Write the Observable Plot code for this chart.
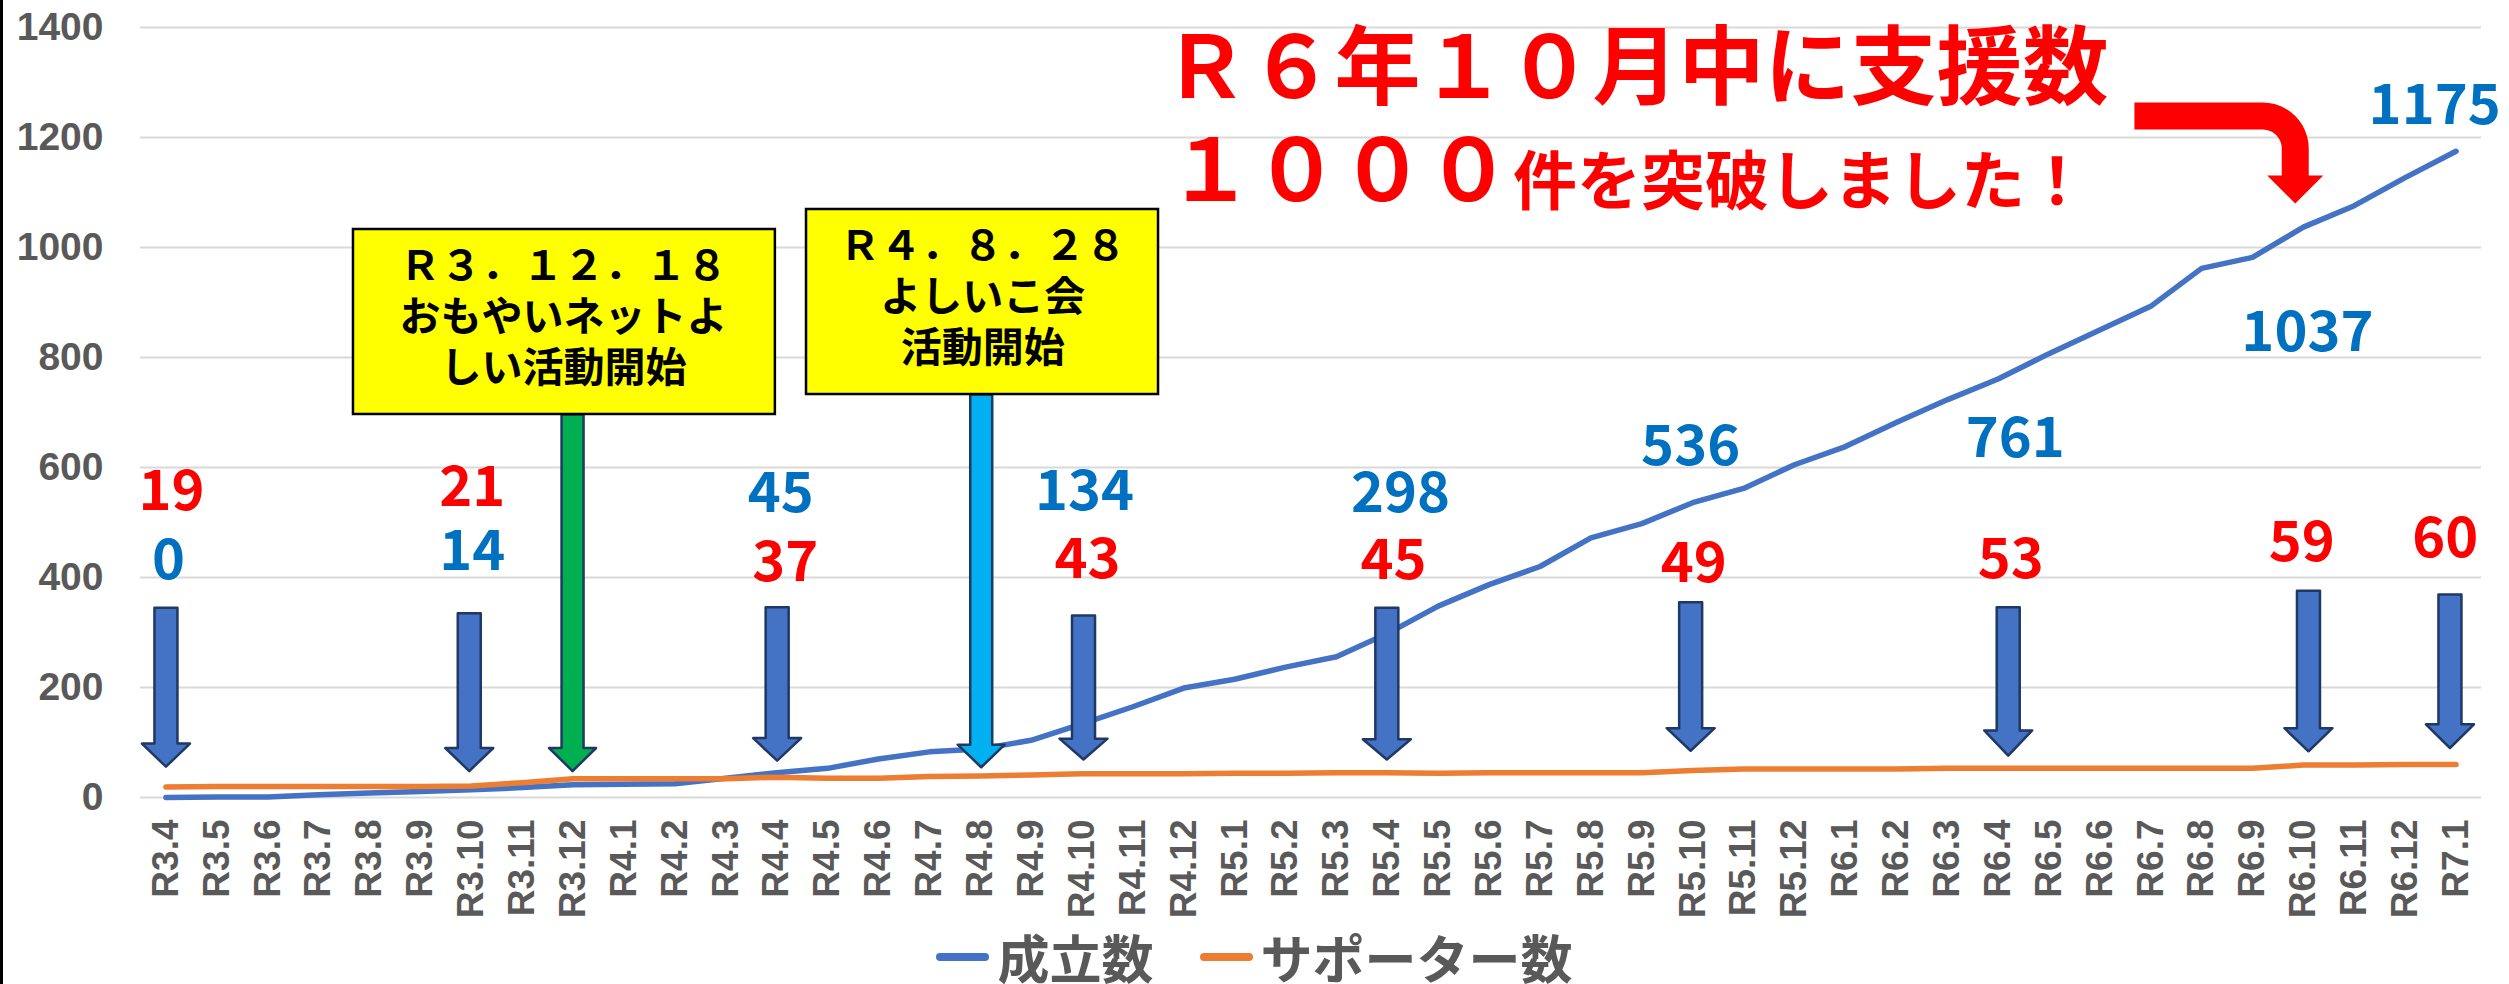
<!DOCTYPE html>
<html><head><meta charset="utf-8">
<script src="https://cdn.jsdelivr.net/npm/d3@7"></script>
<script src="https://cdn.jsdelivr.net/npm/@observablehq/plot@0.6"></script>
<style>
html,body{margin:0;padding:0;background:#fff;}
#wrap{position:relative;width:2509px;height:984px;overflow:hidden;background:#fff;}
#border{position:absolute;left:0;top:0;width:3px;height:984px;background:#000;}
#legend{height:54px;display:flex;justify-content:center;align-items:center;font-family:"Noto Sans CJK JP";font-weight:bold;font-size:52px;color:#595959;line-height:54px;}
#legend .item{display:flex;align-items:center;}
#legend .sw{display:inline-block;width:53px;height:8px;border-radius:4px;margin-right:8px;}
#legend .item + .item{margin-left:46px;}
</style></head>
<body><div id="wrap"><div id="chart"></div><div id="legend"></div><div id="border"></div></div>
<script>
// ---- data ----
const months = ["R3.4","R3.5","R3.6","R3.7","R3.8","R3.9","R3.10","R3.11","R3.12",
  "R4.1","R4.2","R4.3","R4.4","R4.5","R4.6","R4.7","R4.8","R4.9","R4.10","R4.11","R4.12",
  "R5.1","R5.2","R5.3","R5.4","R5.5","R5.6","R5.7","R5.8","R5.9","R5.10","R5.11","R5.12",
  "R6.1","R6.2","R6.3","R6.4","R6.5","R6.6","R6.7","R6.8","R6.9","R6.10","R6.11","R6.12",
  "R7.1"];
const seiritu = [0,1,1,5,8,11,14,18,23,24,25,35,45,53,70,83,88,104,134,165,199,
  215,237,256,298,348,387,420,472,498,536,562,605,
  638,682,723,761,807,850,893,962,982,1037,1076,1127,1175];
const supporter = [19,20,20,20,20,20,21,27,34,34,34,34,37,35,35,38,39,41,43,43,43,
  44,44,45,45,44,45,45,45,45,49,52,52,
  52,52,53,53,53,53,53,53,53,59,59,60,60];
const seriesNames = ["成立数","サポーター数"];
const seriesColors = ["#4472C4","#ED7D31"];
const yTicks = [0,200,400,600,800,1000,1200,1400];

// value labels shown every six months (month index) and their anchor positions (x: month index, y: value units)
const labelIdx = [0,6,12,18,24,30,36,42,45];
const blueLabelX = [0.05,6.02,12.08,18.05,24.26,29.96,36.34,42.08,44.58];
const blueLabelY = [429,447,551,555,551,638,651,844,1258];
const redLabelX = [0.11,6.02,12.17,18.11,24.12,30.02,36.25,41.97,44.79];
const redLabelY = [555,563,426,431,429,425,431,462,469];

// down arrows (x: month index, y: value units)
const arrowX = [0.0,5.96,12.01,18.03,23.99,29.96,36.2,42.1,44.88];
const arrowTop = [345,335,346,331,345,355,346,376,369];
const arrowHead = [98,90,108,107,106,126,122,126,133];
const arrowTip = [56,48,67,69,69,85,76,84,90];

// event callouts
const eventText = ["Ｒ３．１２．１８\nおもやいネットよ\nしい活動開始", "Ｒ４．８．２８\nよしいこ会\n活動開始"];
const eventColor = ["#00B050","#00B0F0"];
const eventArrowX = [7.99,16.02];
const eventArrowHead = [90,96];
const eventArrowTip = [48,55];
const eventBoxX1 = [3.685,12.587];
const eventBoxX2 = [11.975,19.504];
const eventBoxY1 = [696.4,732.7];
const eventBoxY2 = [1032.7,1069.1];
const eventTextX = [7.81,16.05];
const eventTextY = [878,914.5];

// headline
const headline1 = "Ｒ６年１０月中に支援数";
const headline2a = "１０００";
const headline2b = "件を突破しました！";

// ---- geometry ----
const W = 2509, H = 930, mL = 140, mR = 28, mT = 27, mB = 133;
const kx = 46 / (W - mL - mR);      // month-index units per pixel
const ky = 1400 / (H - mT - mB);    // value units per pixel

function blockArrow(id, cx, top, head, tip, shaftPx, headPx) {
  const hw = shaftPx / 2 * kx, hh = headPx / 2 * kx;
  return [[cx-hw,top],[cx+hw,top],[cx+hw,head],[cx+hh,head],[cx,tip],[cx-hh,head],[cx-hw,head]]
    .map(([x,y]) => ({id, x, y}));
}
function bentArrow(x0, xc, yTop, yTip, tPx, rPx, headWPx, headLPx) {
  const pts = [];
  const xr = xc + tPx/2*kx, xl = xc - tPx/2*kx;
  const acx = xr - rPx*kx, acy = yTop - rPx*ky;
  const r2 = rPx - tPx;
  const headStart = yTip + headLPx*ky;
  pts.push([x0, yTop]);
  for (let k = 0; k <= 12; k++) { const a = Math.PI/2 - k*(Math.PI/2)/12; pts.push([acx + rPx*Math.cos(a)*kx, acy + rPx*Math.sin(a)*ky]); }
  pts.push([xr, headStart]);
  pts.push([xc + headWPx/2*kx, headStart]);
  pts.push([xc, yTip]);
  pts.push([xc - headWPx/2*kx, headStart]);
  pts.push([xl, headStart]);
  for (let k = 0; k <= 12; k++) { const a = k*(Math.PI/2)/12; pts.push([acx + r2*Math.cos(a)*kx, acy + r2*Math.sin(a)*ky]); }
  pts.push([x0, yTop - tPx*ky]);
  return pts.map(([x,y]) => ({x, y}));
}

const blueArrows = labelIdx.flatMap((c, i) => blockArrow(i, arrowX[i], arrowTop[i], arrowHead[i], arrowTip[i], 23, 48));
const evArrows = [0,1].map(i => blockArrow(i, eventArrowX[i], eventBoxY1[i], eventArrowHead[i], eventArrowTip[i], 22, 47));
const redArrow = bentArrow(38.68, 41.84, 1263.6, 1080, 27, 46, 56, 28);

const jp = "'Noto Sans CJK JP', sans-serif";
const lblFont = {fontFamily: jp, fontWeight: "bold", fontSize: 56, lineAnchor: "middle", textAnchor: "middle"};

const plot = Plot.plot({
  width: W, height: H,
  marginLeft: mL, marginRight: mR, marginTop: mT, marginBottom: mB,
  style: {fontFamily: jp, background: "white"},
  x: {domain: [-0.5, 45.5]},
  y: {domain: [0, 1400]},
  marks: [
    Plot.ruleY(yTicks, {stroke: "#D9D9D9", strokeWidth: 2}),
    Plot.axisY(yTicks, {tickFormat: d => String(d), tickSize: 0, tickPadding: 37, fontSize: 39, fontWeight: "bold",
      fontFamily: "'Liberation Sans', Arial, sans-serif", color: "#595959", label: null}),
    Plot.axisX(months.map((m, i) => i), {tickFormat: i => months[i], tickRotate: -90, tickSize: 0, tickPadding: 22,
      fontSize: 37, fontWeight: "bold", fontFamily: "'Liberation Sans Narrow', 'Liberation Sans', Arial, sans-serif", color: "#595959", label: null}),
    Plot.line(seiritu, {x: (d, i) => i, y: d => d, stroke: seriesColors[0], strokeWidth: 5.5, strokeLinecap: "round", strokeLinejoin: "round"}),
    Plot.line(supporter, {x: (d, i) => i, y: d => d, stroke: seriesColors[1], strokeWidth: 5.5, strokeLinecap: "round", strokeLinejoin: "round"}),
    Plot.line(blueArrows, {x: "x", y: "y", z: "id", curve: "linear-closed", fill: "#4472C4", stroke: "#1F3864", strokeWidth: 2.5}),
    Plot.line(evArrows[0], {x: "x", y: "y", curve: "linear-closed", fill: eventColor[0], stroke: "#1F3864", strokeWidth: 2.5}),
    Plot.line(evArrows[1], {x: "x", y: "y", curve: "linear-closed", fill: eventColor[1], stroke: "#1F3864", strokeWidth: 2.5}),
    Plot.rect([0,1], {x1: i => eventBoxX1[i], x2: i => eventBoxX2[i], y1: i => eventBoxY1[i], y2: i => eventBoxY2[i],
      fill: "#FFFF00", stroke: "#000", strokeWidth: 2.5}),
    Plot.text([0,1], {x: i => eventTextX[i], y: i => eventTextY[i], text: i => eventText[i],
      fontFamily: jp, fontWeight: "bold", fontSize: 41, lineHeight: 1.25, fill: "#000", textAnchor: "middle", lineAnchor: "middle"}),
    Plot.text(labelIdx, {x: (c, i) => blueLabelX[i], y: (c, i) => blueLabelY[i], text: c => String(seiritu[c]), fill: "#0070C0", ...lblFont}),
    Plot.text(labelIdx, {x: (c, i) => redLabelX[i], y: (c, i) => redLabelY[i], text: c => String(supporter[c]), fill: "#FF0000", ...lblFont}),
    Plot.text([headline1], {x: 19.58, y: 1322, text: d => d, fontFamily: jp, fontWeight: "bold", fontSize: 86, fill: "#FF0000", textAnchor: "start", lineAnchor: "middle"}),
    Plot.text([headline2a], {x: 19.68, y: 1135.5, text: d => d, fontFamily: jp, fontWeight: "bold", fontSize: 86, fill: "#FF0000", textAnchor: "start", lineAnchor: "middle"}),
    Plot.text([headline2b], {x: 26.47, y: 1117, text: d => d, fontFamily: jp, fontWeight: "bold", fontSize: 64, fill: "#FF0000", textAnchor: "start", lineAnchor: "middle"}),
    Plot.line(redArrow, {x: "x", y: "y", curve: "linear-closed", fill: "#FF0000", stroke: "none"})
  ]
});
document.getElementById("chart").appendChild(plot);

const legend = document.getElementById("legend");
seriesNames.forEach((name, i) => {
  const item = document.createElement("span");
  item.className = "item";
  const sw = document.createElement("span");
  sw.className = "sw";
  sw.style.background = seriesColors[i];
  item.appendChild(sw);
  item.appendChild(document.createTextNode(name));
  legend.appendChild(item);
});
</script>
</body></html>
